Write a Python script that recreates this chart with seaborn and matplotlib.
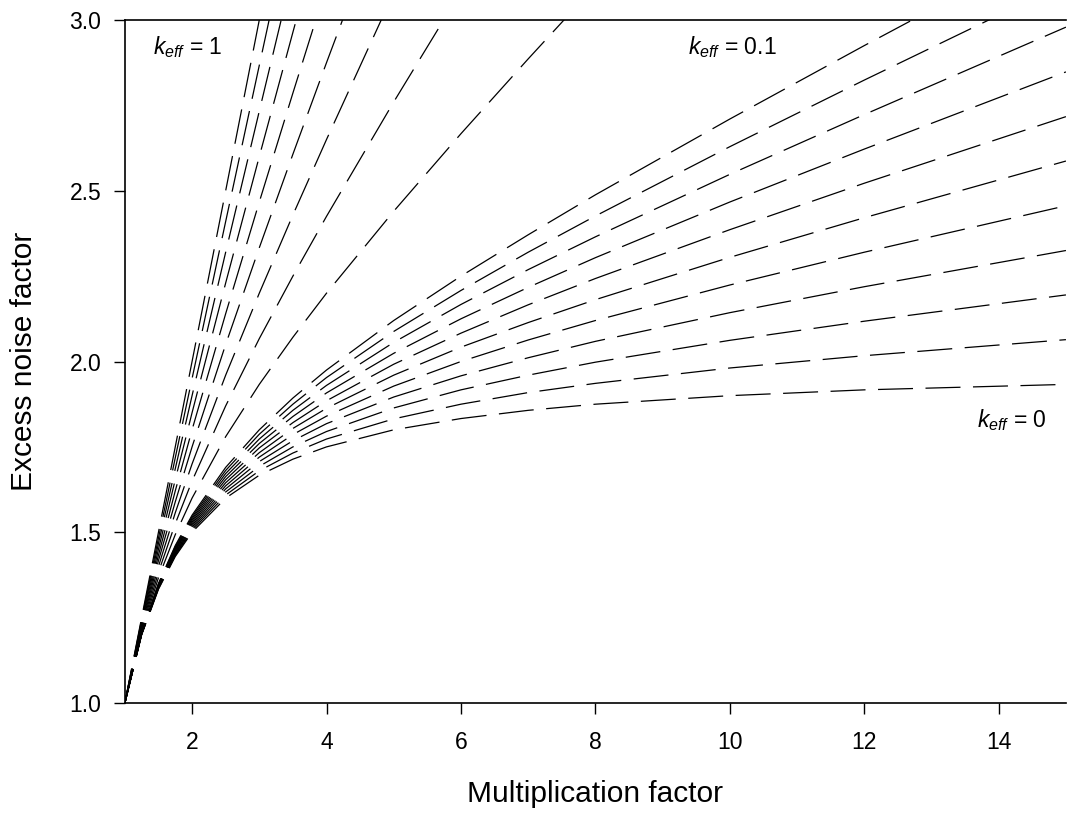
import matplotlib
matplotlib.use("Agg")
import matplotlib.pyplot as plt
import seaborn as sns
import pandas as pd

# Multiplication factor grid
M = [1, 1.25, 1.5, 1.75, 2, 2.5, 3, 3.5, 4, 5, 6, 7, 8, 10, 12, 15]

# Excess noise factor curves, one per k_eff value
F_k000 = [1, 1.200, 1.333, 1.429, 1.500, 1.600, 1.667, 1.714, 1.750, 1.800, 1.833, 1.857, 1.875, 1.900, 1.917, 1.933]
F_k001 = [1, 1.201, 1.335, 1.432, 1.505, 1.609, 1.680, 1.732, 1.773, 1.832, 1.875, 1.909, 1.936, 1.981, 2.017, 2.064]
F_k002 = [1, 1.201, 1.337, 1.435, 1.510, 1.618, 1.693, 1.750, 1.795, 1.864, 1.917, 1.960, 1.998, 2.062, 2.118, 2.195]
F_k003 = [1, 1.202, 1.338, 1.438, 1.515, 1.627, 1.707, 1.768, 1.818, 1.896, 1.958, 2.011, 2.059, 2.143, 2.219, 2.325]
F_k004 = [1, 1.202, 1.340, 1.441, 1.520, 1.636, 1.720, 1.786, 1.840, 1.928, 2.000, 2.063, 2.120, 2.224, 2.320, 2.456]
F_k005 = [1, 1.203, 1.342, 1.445, 1.525, 1.645, 1.733, 1.804, 1.863, 1.960, 2.042, 2.114, 2.181, 2.305, 2.421, 2.587]
F_k006 = [1, 1.203, 1.343, 1.448, 1.530, 1.654, 1.747, 1.821, 1.885, 1.992, 2.083, 2.166, 2.243, 2.386, 2.522, 2.717]
F_k007 = [1, 1.204, 1.345, 1.451, 1.535, 1.663, 1.760, 1.839, 1.908, 2.024, 2.125, 2.217, 2.304, 2.467, 2.622, 2.848]
F_k008 = [1, 1.204, 1.347, 1.454, 1.540, 1.672, 1.773, 1.857, 1.930, 2.056, 2.167, 2.269, 2.365, 2.548, 2.723, 2.979]
F_k009 = [1, 1.205, 1.348, 1.458, 1.545, 1.681, 1.787, 1.875, 1.953, 2.088, 2.208, 2.320, 2.426, 2.629, 2.824, 3.109]
F_k010 = [1, 1.205, 1.350, 1.461, 1.550, 1.690, 1.800, 1.893, 1.975, 2.120, 2.250, 2.371, 2.488, 2.710, 2.925, 3.240]
F_k020 = [1, 1.210, 1.367, 1.493, 1.600, 1.780, 1.933, 2.071, 2.200, 2.440, 2.667, 2.886, 3.100]
F_k030 = [1, 1.215, 1.383, 1.525, 1.650, 1.870, 2.067, 2.250, 2.425, 2.760, 3.083]
F_k040 = [1, 1.220, 1.400, 1.557, 1.700, 1.960, 2.200, 2.429, 2.650, 3.080]
F_k050 = [1, 1.225, 1.417, 1.589, 1.750, 2.050, 2.333, 2.607, 2.875, 3.400]
F_k060 = [1, 1.230, 1.433, 1.621, 1.800, 2.140, 2.467, 2.786, 3.100]
F_k070 = [1, 1.235, 1.450, 1.654, 1.850, 2.230, 2.600, 2.964, 3.325]
F_k080 = [1, 1.240, 1.467, 1.686, 1.900, 2.320, 2.733, 3.143]
F_k090 = [1, 1.245, 1.483, 1.718, 1.950, 2.410, 2.867, 3.321]
F_k100 = [1, 1.250, 1.500, 1.750, 2.000, 2.500, 3.000]

curves = [F_k000, F_k001, F_k002, F_k003, F_k004, F_k005, F_k006, F_k007,
          F_k008, F_k009, F_k010, F_k020, F_k030, F_k040, F_k050, F_k060,
          F_k070, F_k080, F_k090, F_k100]

x_ticks = [2, 4, 6, 8, 10, 12, 14]
y_ticks = [1.0, 1.5, 2.0, 2.5, 3.0]

sns.set_theme(style="white")
plt.rcParams['font.family'] = ['Liberation Sans', 'DejaVu Sans']
plt.rcParams['mathtext.fontset'] = 'custom'
plt.rcParams['mathtext.it'] = 'Liberation Sans:italic'
plt.rcParams['mathtext.rm'] = 'Liberation Sans'

fig = plt.figure(figsize=(10.67, 8.19), dpi=100)
ax = fig.add_axes([0.117, 0.1416, 0.882, 0.834])

for F in curves:
    df = pd.DataFrame({"M": M[:len(F)], "F": F})
    sns.lineplot(data=df, x="M", y="F", ax=ax, color="black", lw=0.9,
                 linestyle=(0, (28, 10)), sort=False, estimator=None)

ax.set_xlim(1, 15)
ax.set_ylim(1, 3)
ax.set_xticks(x_ticks)
ax.set_xticklabels([str(t) for t in x_ticks])
ax.set_yticks(y_ticks)
ax.set_yticklabels([f"{t:.1f}" for t in y_ticks])

for s in ["left", "bottom", "top"]:
    ax.spines[s].set_visible(True)
    ax.spines[s].set_color("black")
    ax.spines[s].set_linewidth(1.2)
ax.spines["right"].set_visible(False)

ax.tick_params(axis="both", which="major", direction="out", length=8,
               width=1.0, color="black", labelsize=16.5, labelcolor="black",
               bottom=True, left=True, top=False, right=False)
ax.tick_params(axis="x", pad=12)
ax.tick_params(axis="y", pad=9)

ax.set_xlabel("Multiplication factor", fontsize=21.5, color="black")
ax.set_ylabel("Excess noise factor", fontsize=21.5, color="black")
ax.xaxis.set_label_coords(0.5, -0.112)
ax.yaxis.set_label_coords(-0.092, 0.5)

ax.text(1.42, 2.92, r"$k_{eff}$ = 1", fontsize=16.5, color="black", va="center")
ax.text(9.38, 2.92, r"$k_{eff}$ = 0.1", fontsize=16.5, color="black", va="center")
ax.text(13.68, 1.83, r"$k_{eff}$ = 0", fontsize=16.5, color="black", va="center")

fig.savefig("out.png", dpi=100)
